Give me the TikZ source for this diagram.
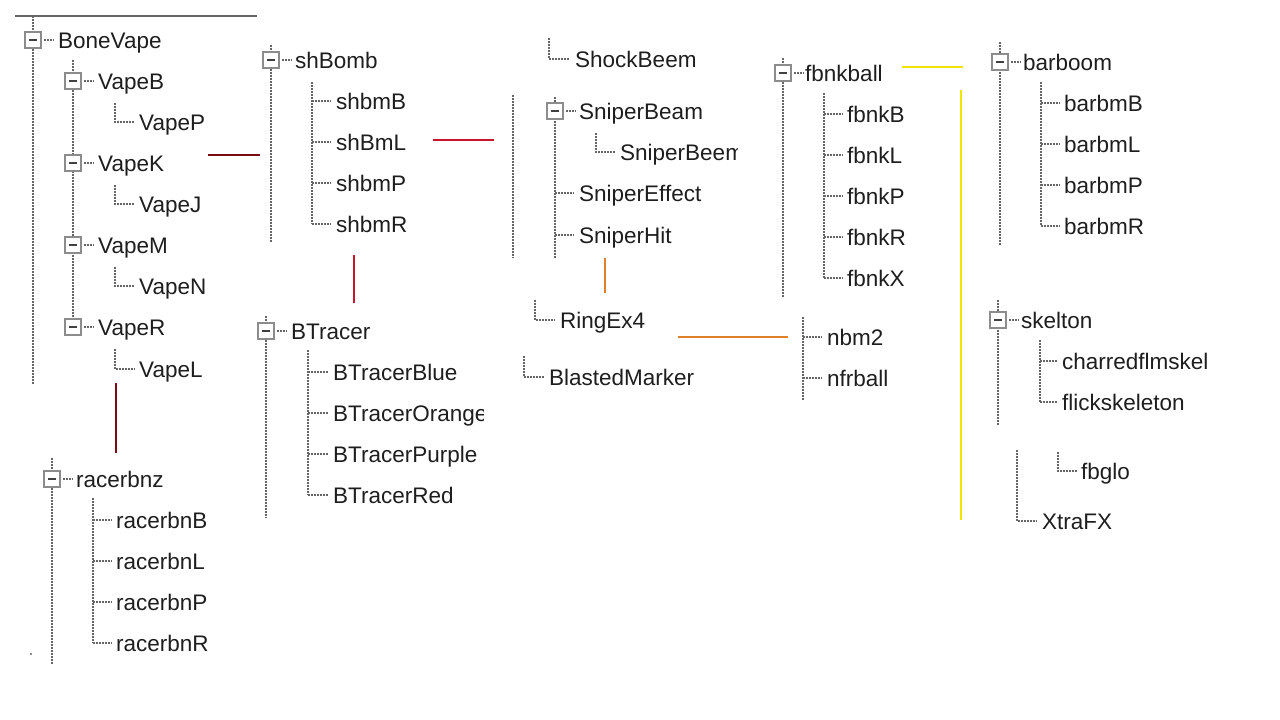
\documentclass[tikz,border=0pt]{standalone}
\usepackage{fontspec}
\setmainfont{Liberation Sans}
\definecolor{txt}{HTML}{1E1E1E}
\definecolor{dotgray}{HTML}{666666}
\definecolor{boxgray}{HTML}{8C8C8C}
\definecolor{dred}{HTML}{7A0C16}
\definecolor{lred}{HTML}{C4162C}
\definecolor{orng}{HTML}{E0802A}
\definecolor{yel}{HTML}{F2E600}
\tikzset{
  lbl/.style={anchor=base west, inner sep=0pt, font=\fontsize{22.5}{27}\selectfont, text=txt},
  dotl/.style={draw=dotgray, line width=1.5pt, dash pattern=on 1.5pt off 1.5pt},
  tbox/.style={draw=boxgray, line width=2.2pt, fill=white, minimum size=16pt, inner sep=0pt},
  link/.style={line width=2.6pt},
}
\newcommand{\mybox}[3]{%
  \node[tbox] (#1) at (#2,#3) {};
  \draw[line width=2.2pt, txt!85] (#2-4,#3) -- (#2+4,#3);
  \draw[dotl] (#2+11,#3) -- (#2+21,#3);}
\newcommand{\corner}[4]{% x, ytop, y, xend
  \draw[dotl] (#1,#2) -- (#1,#3) -- (#4,#3);}
\newcommand{\tick}[3]{% x, y, xend
  \draw[dotl] (#1,#2) -- (#3,#2);}
\begin{document}
\begin{tikzpicture}[x=1pt,y=-1pt]
\useasboundingbox (0,0) rectangle (1280,720);
\fill[white] (0,0) rectangle (1280,720);
% top rule
\draw[line width=2pt, draw=black!60] (15,16) -- (257,16);

% ===== BoneVape tree =====
\draw[dotl] (33,16) -- (33,385);
\draw[dotl] (73,60) -- (73,318);
\corner{115}{103}{122}{135}
\corner{115}{185}{204}{135}
\corner{115}{267}{286}{135}
\corner{115}{349}{369}{135}
\mybox{b0}{33}{40}
\mybox{b1}{73}{81}
\mybox{b2}{73}{163}
\mybox{b3}{73}{245}
\mybox{b4}{73}{327}
\node[lbl] (BoneVape) at (58,48) {BoneVape};
\node[lbl] (VapeB) at (98,89) {VapeB};
\node[lbl] (VapeP) at (139,130) {VapeP};
\node[lbl] (VapeK) at (98,171) {VapeK};
\node[lbl] (VapeJ) at (139,212) {VapeJ};
\node[lbl] (VapeM) at (98,253) {VapeM};
\node[lbl] (VapeN) at (139,294) {VapeN};
\node[lbl] (VapeR) at (98,335) {VapeR};
\node[lbl] (VapeL) at (139,377) {VapeL};

% ===== racerbnz tree =====
\draw[dotl] (52,458) -- (52,665);
\draw[dotl] (93,498) -- (93,643);
\tick{93}{520}{112}
\tick{93}{561}{112}
\tick{93}{602}{112}
\tick{93}{643}{112}
\fill[dotgray] (31,654) circle (1.2pt);
\mybox{b5}{52}{479}
\node[lbl] (racerbnz) at (76,487) {racerbnz};
\node[lbl] (racerbnB) at (116,528) {racerbnB};
\node[lbl] (racerbnL) at (116,569) {racerbnL};
\node[lbl] (racerbnP) at (116,610) {racerbnP};
\node[lbl] (racerbnR) at (116,651) {racerbnR};

% ===== shBomb tree =====
\draw[dotl] (271,45) -- (271,242);
\draw[dotl] (312,82) -- (312,224);
\tick{312}{101}{331}
\tick{312}{142}{331}
\tick{312}{183}{331}
\tick{312}{224}{331}
\mybox{b6}{271}{60}
\node[lbl] (shBomb) at (295,68) {shBomb};
\node[lbl] (shbmB) at (336,109) {shbmB};
\node[lbl] (shBmL) at (336,150) {shBmL};
\node[lbl] (shbmP) at (336,191) {shbmP};
\node[lbl] (shbmR) at (336,232) {shbmR};

% ===== BTracer tree =====
\draw[dotl] (266,316) -- (266,518);
\draw[dotl] (308,350) -- (308,495);
\tick{308}{372}{328}
\tick{308}{413}{328}
\tick{308}{454}{328}
\tick{308}{495}{328}
\mybox{b7}{266}{331}
\node[lbl] (BTracer) at (291,339) {BTracer};
\node[lbl] (BTracerBlue) at (333,380) {BTracerBlue};
\begin{scope}
\clip (320,395) rectangle (483,430);
\node[lbl] (BTracerOrange) at (333,421) {BTracerOrange};
\end{scope}
\node[lbl] (BTracerPurple) at (333,462) {BTracerPurple};
\node[lbl] (BTracerRed) at (333,503) {BTracerRed};

% ===== Sniper column =====
\corner{549}{38}{59}{570}
\draw[dotl] (513,95) -- (513,258);
\draw[dotl] (555,97) -- (555,258);
\corner{596}{133}{152}{615}
\tick{555}{193}{574}
\tick{555}{235}{574}
\corner{535}{300}{320}{555}
\corner{524}{356}{377}{544}
\mybox{b8}{555}{111}
\node[lbl] (ShockBeem) at (575,67) {ShockBeem};
\node[lbl] (SniperBeam) at (579,119) {SniperBeam};
\begin{scope}
\clip (610,130) rectangle (737,170);
\node[lbl] (SniperBeem) at (620,160) {SniperBeem};
\end{scope}
\node[lbl] (SniperEffect) at (579,201) {SniperEffect};
\node[lbl] (SniperHit) at (579,243) {SniperHit};
\node[lbl] (RingEx4) at (560,328) {RingEx4};
\node[lbl] (BlastedMarker) at (549,385) {BlastedMarker};

% ===== fbnkball tree =====
\draw[dotl] (783,58) -- (783,297);
\draw[dotl] (824,93) -- (824,278);
\tick{824}{114}{843}
\tick{824}{155}{843}
\tick{824}{196}{843}
\tick{824}{237}{843}
\tick{824}{278}{843}
\mybox{b9}{783}{73}
\node[lbl] (fbnkball) at (805,81) {fbnkball};
\node[lbl] (fbnkB) at (847,122) {fbnkB};
\node[lbl] (fbnkL) at (847,163) {fbnkL};
\node[lbl] (fbnkP) at (847,204) {fbnkP};
\node[lbl] (fbnkR) at (847,245) {fbnkR};
\node[lbl] (fbnkX) at (847,286) {fbnkX};

\draw[dotl] (803,317) -- (803,400);
\tick{803}{337}{822}
\tick{803}{378}{822}
\node[lbl] (nbm2) at (827,345) {nbm2};
\node[lbl] (nfrball) at (827,386) {nfrball};

% ===== barboom tree =====
\draw[dotl] (1000,42) -- (1000,245);
\draw[dotl] (1041,82) -- (1041,226);
\tick{1041}{103}{1060}
\tick{1041}{144}{1060}
\tick{1041}{185}{1060}
\tick{1041}{226}{1060}
\mybox{b10}{1000}{62}
\node[lbl] (barboom) at (1023,70) {barboom};
\node[lbl] (barbmB) at (1064,111) {barbmB};
\node[lbl] (barbmL) at (1064,152) {barbmL};
\node[lbl] (barbmP) at (1064,193) {barbmP};
\node[lbl] (barbmR) at (1064,234) {barbmR};

% ===== skelton tree =====
\draw[dotl] (998,300) -- (998,425);
\draw[dotl] (1040,340) -- (1040,402);
\tick{1040}{361}{1058}
\tick{1040}{402}{1058}
\mybox{b11}{998}{320}
\node[lbl] (skelton) at (1021,328) {skelton};
\node[lbl] (charredflmskel) at (1062,369) {charredflmskel};
\node[lbl] (flickskeleton) at (1062,410) {flickskeleton};
\corner{1058}{452}{471}{1077}
\corner{1017}{450}{521}{1037}
\node[lbl] (fbglo) at (1081,479) {fbglo};
\node[lbl] (XtraFX) at (1042,529) {XtraFX};

% ===== coloured links =====
\coordinate (r1a) at (208,155); \coordinate (r1b) at (260,155);
\coordinate (r2a) at (116,383); \coordinate (r2b) at (116,453);
\draw[link, dred] (r1a) -- (r1b);
\draw[link, dred] (r2a) -- (r2b);
\coordinate (r3a) at (433,140); \coordinate (r3b) at (494,140);
\coordinate (r4a) at (354,255); \coordinate (r4b) at (354,303);
\draw[link, lred] (r3a) -- (r3b);
\draw[link, lred] (r4a) -- (r4b);
\coordinate (o1a) at (605,258); \coordinate (o1b) at (605,293);
\coordinate (o2a) at (678,337); \coordinate (o2b) at (788,337);
\draw[link, orng] (o1a) -- (o1b);
\draw[link, orng] (o2a) -- (o2b);
\coordinate (y1a) at (902,67); \coordinate (y1b) at (963,67);
\coordinate (y2a) at (961,90); \coordinate (y2b) at (961,520);
\draw[link, yel] (y1a) -- (y1b);
\draw[link, yel] (y2a) -- (y2b);
\end{tikzpicture}
\end{document}
